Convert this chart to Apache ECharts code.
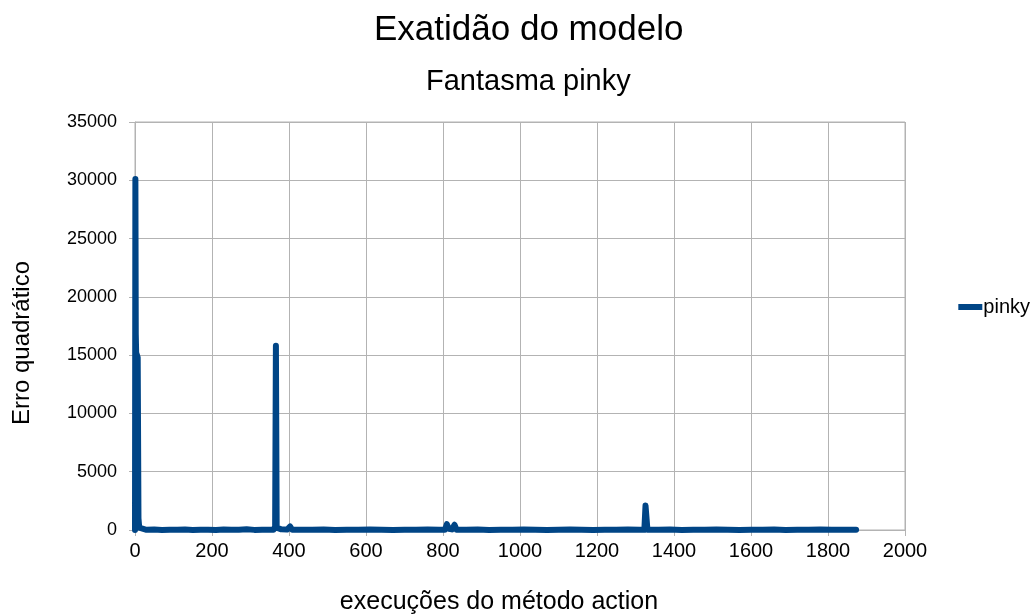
<!DOCTYPE html>
<html><head><meta charset="utf-8">
<script src="https://cdn.jsdelivr.net/npm/echarts@6/dist/echarts.min.js"></script>
<style>html,body{margin:0;padding:0;background:#fff}#c{width:1036px;height:614px}</style>
</head><body><div id="c"></div>
<script>
const chartTitle = "Exatidão do modelo";
const chartSubtitle = "Fantasma pinky";
const xAxisName = "execuções do método action";
const yAxisName = "Erro quadrático";
const seriesName = "pinky";
// execuções (x) and erro quadrático (y)
const runs = [0,1,2,3,7,9,11,14,30,50,70,90,110,130,150,170,190,210,230,250,270,290,310,330,350,360,364,366,368,372,380,395,403,408,430,460,490,520,550,580,610,640,670,700,730,760,790,805,810,815,823,830,835,860,890,920,950,980,1010,1040,1070,1100,1130,1160,1190,1220,1250,1280,1310,1323,1326,1329,1331,1360,1390,1420,1450,1480,1510,1540,1570,1600,1630,1660,1690,1720,1750,1780,1810,1840,1873];
const errors = [0,30100,16800,15200,14800,1000,200,30,20,40,10,30,20,50,10,30,20,10,40,20,30,60,10,30,20,20,300,15800,200,30,60,40,300,20,30,20,40,10,30,20,40,20,10,30,20,40,20,30,500,100,50,450,30,20,40,10,30,20,50,20,10,30,40,20,10,30,20,40,20,20,2100,2000,30,20,40,10,30,20,40,20,10,30,20,40,10,30,20,40,20,30,20];
const xTicks = {min:0, max:2000, step:200};
const yTicks = {min:0, max:35000, step:5000};

const data = runs.map((x,i)=>[x, errors[i]]);
const chart = echarts.init(document.getElementById('c'));
const font = 'Liberation Sans, Arial, sans-serif';
chart.setOption({
  animation:false,
  backgroundColor:'#fff',
  title:[
    {text:chartTitle, left:369, top:8, textStyle:{fontFamily:font, fontWeight:'normal', fontSize:35, color:'#000'}},
    {text:chartSubtitle, left:421, top:62, textStyle:{fontFamily:font, fontWeight:'normal', fontSize:29, color:'#000'}}
  ],
  legend:{
    right:1, top:'middle', orient:'vertical', icon:'rect', itemWidth:24, itemHeight:6, itemGap:4,
    textStyle:{fontFamily:font, fontSize:20, color:'#000', padding:[0,0,0,-4]},
    data:[seriesName]
  },
  grid:{left:135, right:131, top:122, bottom:84, outerBoundsMode:'none', containLabel:false, show:true, borderColor:'#b3b3b3', borderWidth:1},
  xAxis:{
    type:'value', min:xTicks.min, max:xTicks.max, interval:xTicks.step,
    name:xAxisName, nameLocation:'middle', nameGap:60,
    nameTextStyle:{fontFamily:font, fontSize:25, color:'#000', padding:[0,42,0,0]},
    axisLine:{show:true, lineStyle:{color:'#b3b3b3'}},
    axisTick:{show:true, length:6, lineStyle:{color:'#b3b3b3'}},
    axisLabel:{fontFamily:font, fontSize:20, color:'#000', margin:11, formatter:v=>String(v)},
    splitLine:{show:true, lineStyle:{color:'#b3b3b3'}}
  },
  yAxis:{
    type:'value', min:yTicks.min, max:yTicks.max, interval:yTicks.step,
    name:yAxisName, nameLocation:'middle', nameGap:101, nameRotate:90,
    nameTextStyle:{fontFamily:font, fontSize:24, color:'#000', padding:[0,34,0,0]},
    axisLine:{show:true, lineStyle:{color:'#b3b3b3'}},
    axisTick:{show:true, length:6, lineStyle:{color:'#b3b3b3'}},
    axisLabel:{fontFamily:font, fontSize:18, color:'#000', margin:18, formatter:v=>String(v)},
    splitLine:{show:true, lineStyle:{color:'#b3b3b3'}}
  },
  series:[{
    name:seriesName, type:'line', data:data, symbol:'none', showSymbol:false,
    color:'#004586',
    lineStyle:{width:6, color:'#004586', cap:'round', join:'round'}
  }]
});
</script></body></html>
